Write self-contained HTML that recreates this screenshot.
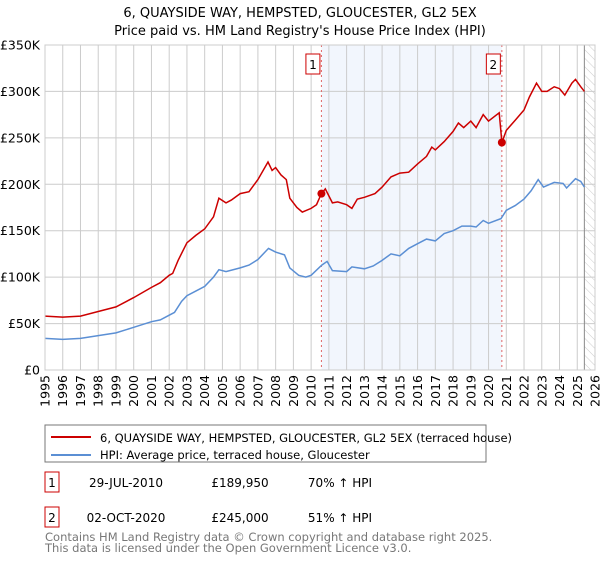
<!DOCTYPE html>
<html><head><meta charset="utf-8"><style>
body{margin:0;background:#fff;font-family:"Liberation Sans","DejaVu Sans",sans-serif;}
svg text{font-family:"DejaVu Sans","Liberation Sans",sans-serif;}
</style></head><body>
<svg id="c" width="600" height="560" xmlns="http://www.w3.org/2000/svg">
<defs><pattern id="hatch" width="6" height="6" patternUnits="userSpaceOnUse" patternTransform="rotate(-45)"><line x1="0" y1="0" x2="0" y2="6" stroke="#ccc" stroke-width="1"/></pattern></defs>
<text x="300" y="17" text-anchor="middle" font-size="13" fill="#000">6, QUAYSIDE WAY, HEMPSTED, GLOUCESTER, GL2 5EX</text>
<text x="300" y="35" text-anchor="middle" font-size="13" fill="#000">Price paid vs. HM Land Registry's House Price Index (HPI)</text>
<g id="plot"></g>
<rect x="45" y="425" width="441" height="37" fill="#fff" stroke="#777"/>
<line x1="51" y1="437" x2="91" y2="437" stroke="#cc0000" stroke-width="2"/>
<text x="100" y="442" font-size="11.5">6, QUAYSIDE WAY, HEMPSTED, GLOUCESTER, GL2 5EX (terraced house)</text>
<line x1="51" y1="455" x2="91" y2="455" stroke="#5b8fd4" stroke-width="2"/>
<text x="100" y="459" font-size="11.5">HPI: Average price, terraced house, Gloucester</text>
<rect x="45" y="472" width="14" height="20" fill="#fff" stroke="#cc0000"/>
<text x="52" y="487" text-anchor="middle" font-size="12">1</text>
<text x="126" y="487" text-anchor="middle" font-size="12">29-JUL-2010</text>
<text x="240" y="487" text-anchor="middle" font-size="12">£189,950</text>
<text x="340" y="487" text-anchor="middle" font-size="12">70% ↑ HPI</text>
<rect x="45" y="507" width="14" height="20" fill="#fff" stroke="#cc0000"/>
<text x="52" y="522" text-anchor="middle" font-size="12">2</text>
<text x="126" y="522" text-anchor="middle" font-size="12">02-OCT-2020</text>
<text x="240" y="522" text-anchor="middle" font-size="12">£245,000</text>
<text x="340" y="522" text-anchor="middle" font-size="12">51% ↑ HPI</text>
<text x="45" y="541" font-size="11.5" fill="#777">Contains HM Land Registry data © Crown copyright and database right 2025.</text>
<text x="45" y="552" font-size="11.5" fill="#777">This data is licensed under the Open Government Licence v3.0.</text>
</svg>
<script>
const yTicks=[0,50,100,150,200,250,300,350];
const yTickLabels=["£0","£50K","£100K","£150K","£200K","£250K","£300K","£350K"];
const years=[1995,1996,1997,1998,1999,2000,2001,2002,2003,2004,2005,2006,2007,2008,2009,2010,2011,2012,2013,2014,2015,2016,2017,2018,2019,2020,2021,2022,2023,2024,2025,2026];
const propT=[1995,1996,1997,1998,1999,2000,2001,2001.5,2002,2002.2,2002.5,2003,2003.5,2004,2004.5,2004.8,2005.2,2005.5,2006,2006.5,2007,2007.57,2007.8,2008,2008.3,2008.6,2008.8,2009.2,2009.5,2010,2010.3,2010.58,2010.8,2011.2,2011.5,2012,2012.3,2012.6,2013,2013.6,2014,2014.5,2015,2015.5,2016,2016.5,2016.8,2017,2017.5,2018,2018.3,2018.6,2019,2019.3,2019.7,2020,2020.6,2020.75,2021,2021.5,2022,2022.3,2022.7,2023,2023.3,2023.7,2024,2024.3,2024.7,2024.9,2025.2,2025.4];
const propV=[58,57,58,63,68,78,89,94,102,104,118,137,145,152,165,185,180,183,190,192,205,224,215,218,210,205,185,175,170,174,178,189.95,195,180,181,178,174,184,186,190,197,208,212,213,222,230,240,237,246,257,266,261,268,261,275,268,277,245,258,269,280,294,309,300,300,305,303,296,309,313,305,300];
const hpiT=[1995,1996,1997,1998,1999,2000,2001,2001.5,2002,2002.3,2002.7,2003,2003.5,2004,2004.5,2004.8,2005.2,2006,2006.5,2007,2007.6,2008,2008.5,2008.8,2009.3,2009.7,2010,2010.6,2010.9,2011.2,2012,2012.3,2013,2013.5,2014,2014.5,2015,2015.5,2016,2016.5,2017,2017.5,2018,2018.5,2019,2019.3,2019.7,2020,2020.7,2021,2021.5,2022,2022.4,2022.8,2023.1,2023.7,2024.2,2024.4,2024.9,2025.2,2025.4];
const hpiV=[34,33,34,37,40,46,52,54,59,62,74,80,85,90,100,108,106,110,113,119,131,127,124,110,102,100,102,113,117,107,106,111,109,112,118,125,123,131,136,141,139,147,150,155,155,154,161,158,163,172,177,184,193,205,197,202,201,196,206,203,197];
const sales=[{t:2010.58,v:189.95,label:"1"},{t:2020.75,v:245,label:"2"}];
const X0=45,X1=595,Y0=370,Y1=45;
const xs=t=>X0+(t-1995)/(2026-1995)*(X1-X0);
const ys=v=>Y0-v/350*(Y0-Y1);
const NS="http://www.w3.org/2000/svg";
const g=document.getElementById('plot');
function mk(tag,attrs,txt){const e=document.createElementNS(NS,tag);for(const k in attrs)e.setAttribute(k,attrs[k]);if(txt!==undefined)e.textContent=txt;g.appendChild(e);return e;}
let e;
e=mk('rect',{x:xs(sales[0].t),y:Y1,width:xs(sales[1].t)-xs(sales[0].t),height:Y0-Y1,fill:'#f2f6fd'});


e=mk('rect',{x:xs(2025.4),y:Y1,width:X1-xs(2025.4),height:Y0-Y1,fill:'url(#hatch)'});


years.forEach(y=>{
 e=mk('line',{x1:xs(y),x2:xs(y),y1:Y1,y2:Y0,stroke:'#ccc','stroke-width':1});
 
 
 const x=xs(y)+4.5;
 e=mk('text',{x:x,y:375,transform:`rotate(-90 ${x} 375)`,'text-anchor':'end','font-size':12.5},String(y));
 
 
});
yTicks.forEach((v,i)=>{
 e=mk('line',{x1:X0,x2:X1,y1:ys(v),y2:ys(v),stroke:'#ccc','stroke-width':1});
 
 
 e=mk('text',{x:40,y:ys(v)+4.5,'text-anchor':'end','font-size':12.5},yTickLabels[i]);
 
 
});
e=mk('line',{x1:xs(2025.4),x2:xs(2025.4),y1:Y1,y2:Y0,stroke:'#888','stroke-width':1});


sales.forEach(s=>{
 e=mk('line',{x1:xs(s.t),x2:xs(s.t),y1:Y1,y2:Y0,stroke:'#e06666','stroke-width':1,'stroke-dasharray':'2,3'});
 
 
});
function path(T,V){return T.map((t,i)=>(i?'L':'M')+xs(t).toFixed(1)+','+ys(V[i]).toFixed(1)).join('');}
e=mk('path',{d:path(hpiT,hpiV),fill:'none',stroke:'#5b8fd4','stroke-width':1.5});


e=mk('path',{d:path(propT,propV),fill:'none',stroke:'#cc0000','stroke-width':1.5});


sales.forEach(s=>{
 e=mk('circle',{cx:xs(s.t),cy:ys(s.v),r:4,fill:'#cc0000'});
 
 
 const bx=xs(s.t)-15;
 e=mk('rect',{x:bx-0.5,y:54,width:14,height:20,fill:'#fff',stroke:'#cc0000'});
 
 
 e=mk('text',{x:bx+6.5,y:69,'text-anchor':'middle','font-size':12},s.label);
 
 
});
e=mk('rect',{x:X0,y:Y1,width:X1-X0,height:Y0-Y1,fill:'none',stroke:'#ccc'});


</script>
</body></html>
